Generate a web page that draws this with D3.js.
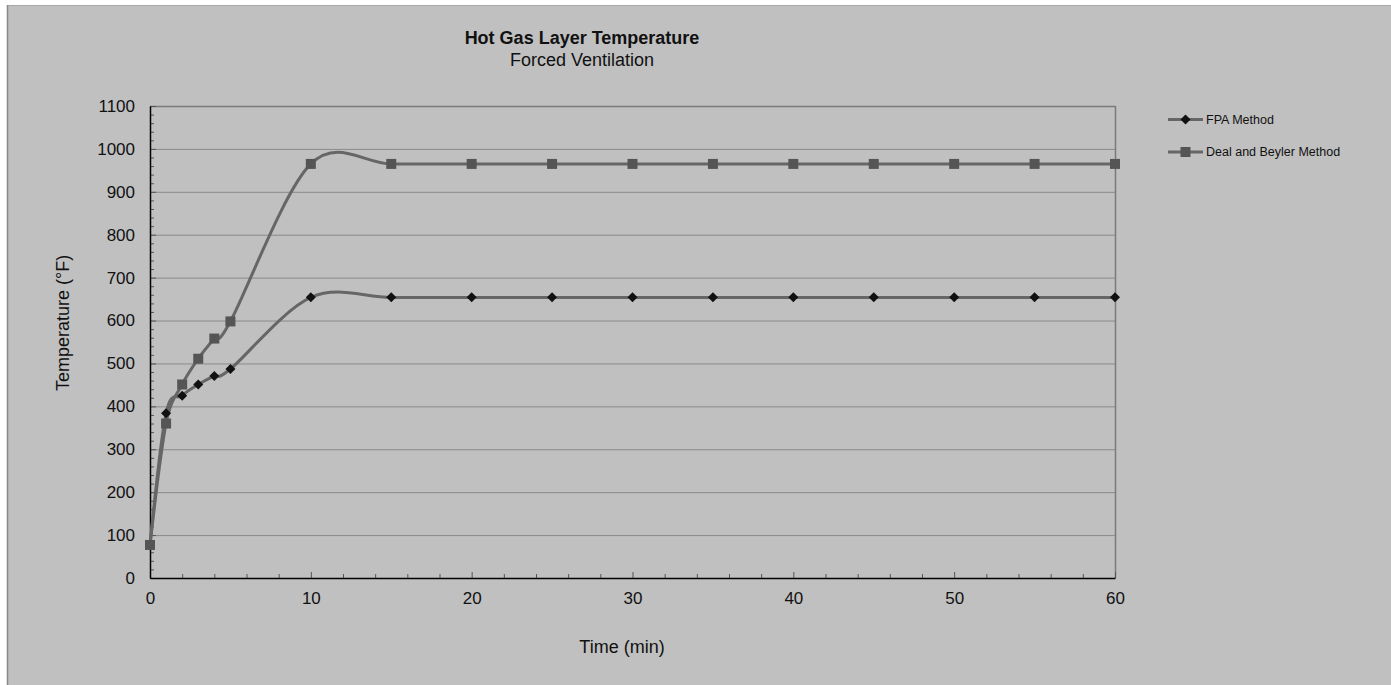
<!DOCTYPE html>
<html>
<head>
<meta charset="utf-8">
<script src="https://cdn.jsdelivr.net/npm/d3@7/dist/d3.min.js"></script>
<style>
  html, body { margin: 0; padding: 0; background: #ffffff; }
  svg { display: block; font-family: "Liberation Sans", Arial, sans-serif; }
</style>
</head>
<body>
<svg id="chart" width="1391" height="685"></svg>
<script>
// Elapsed time (minutes)
const times = [0, 1, 2, 3, 4, 5, 10, 15, 20, 25, 30, 35, 40, 45, 50, 55, 60];
// Hot gas layer temperature (°F), FPA method
const fpaTemps = [77, 384, 425, 451, 471, 487, 654, 654, 654, 654, 654, 654, 654, 654, 654, 654, 654];
// Hot gas layer temperature (°F), Deal and Beyler method
const dealBeylerTemps = [77, 360, 451, 511, 558, 598, 965, 965, 965, 965, 965, 965, 965, 965, 965, 965, 965];
const seriesNames = ["FPA Method", "Deal and Beyler Method"];
const xTicks = [0, 10, 20, 30, 40, 50, 60];
const yTicks = [0, 100, 200, 300, 400, 500, 600, 700, 800, 900, 1000, 1100];

const svg = d3.select("#chart");
const W = 1391, H = 685;
const plot = { left: 150, right: 1115, top: 106, bottom: 578 };

// chart area panel
svg.append("rect").attr("x", 7).attr("y", 5).attr("width", W - 7).attr("height", H - 5)
  .attr("fill", "#c0c0c0");
svg.append("line").attr("x1", 7).attr("x2", W).attr("y1", 5.5).attr("y2", 5.5)
  .attr("stroke", "#a8a8a8").attr("stroke-width", 1);
svg.append("line").attr("x1", 7.5).attr("x2", 7.5).attr("y1", 5).attr("y2", H)
  .attr("stroke", "#888888").attr("stroke-width", 1.5);

const x = d3.scaleLinear().domain([0, 60]).range([plot.left, plot.right]);
const y = d3.scaleLinear().domain([0, 1100]).range([plot.bottom, plot.top]);

// horizontal gridlines
svg.append("g").selectAll("line").data(yTicks.filter(v => v > 0 && v < 1100)).join("line")
  .attr("x1", plot.left).attr("x2", plot.right)
  .attr("y1", d => y(d) + 0.5).attr("y2", d => y(d) + 0.5)
  .attr("stroke", "#8a8a8a").attr("stroke-width", 1);

// plot frame top and right
svg.append("line").attr("x1", plot.left).attr("x2", plot.right + 0.5)
  .attr("y1", plot.top + 0.5).attr("y2", plot.top + 0.5)
  .attr("stroke", "#7a7a7a").attr("stroke-width", 1.5);
svg.append("line").attr("x1", plot.right + 0.5).attr("x2", plot.right + 0.5)
  .attr("y1", plot.top).attr("y2", plot.bottom)
  .attr("stroke", "#7a7a7a").attr("stroke-width", 1.5);

// minor ticks (inside)
const yMinor = d3.range(0, 1101, 20);
svg.append("g").selectAll("line").data(yMinor).join("line")
  .attr("x1", plot.left).attr("x2", d => plot.left + (d % 100 === 0 ? 6 : 4))
  .attr("y1", d => y(d) + 0.5).attr("y2", d => y(d) + 0.5)
  .attr("stroke", "#555").attr("stroke-width", 1);
const xMinor = d3.range(0, 61, 2);
svg.append("g").selectAll("line").data(xMinor).join("line")
  .attr("x1", d => x(d) + 0.5).attr("x2", d => x(d) + 0.5)
  .attr("y1", plot.bottom).attr("y2", d => plot.bottom - (d % 10 === 0 ? 6 : 4))
  .attr("stroke", "#555").attr("stroke-width", 1);

// axes
const yAxis = svg.append("g").attr("transform", `translate(${plot.left},0)`)
  .call(d3.axisLeft(y).tickValues(yTicks).tickSize(0).tickPadding(15).tickFormat(d3.format("d")));
const xAxis = svg.append("g").attr("transform", `translate(0,${plot.bottom})`)
  .call(d3.axisBottom(x).tickValues(xTicks).tickSize(0).tickPadding(14).tickFormat(d3.format("d")));
[xAxis, yAxis].forEach(g => {
  g.select(".domain").attr("stroke", "#000").attr("stroke-width", 1.5);
  g.selectAll("text").attr("font-size", 17).attr("fill", "#111")
    .attr("font-family", "Liberation Sans, Arial, sans-serif");
});

// series lines (smoothed)
const line = d3.line().x(d => x(d[0])).y(d => y(d[1])).curve(d3.curveCardinal.tension(0));
const fpaPts = times.map((t, i) => [t, fpaTemps[i]]);
const dbPts = times.map((t, i) => [t, dealBeylerTemps[i]]);
const lineColor = "#666666";

svg.append("path").datum(dbPts).attr("d", line)
  .attr("fill", "none").attr("stroke", lineColor).attr("stroke-width", 3);
svg.append("path").datum(fpaPts).attr("d", line)
  .attr("fill", "none").attr("stroke", lineColor).attr("stroke-width", 3);

function drawDiamond(g, cx, cy) {
  g.append("path").attr("d", "M0,-5L5,0L0,5L-5,0Z")
    .attr("transform", `translate(${cx},${cy})`).attr("fill", "#111");
}
function drawSquare(g, cx, cy) {
  g.append("rect").attr("x", cx - 5).attr("y", cy - 5).attr("width", 10).attr("height", 10)
    .attr("fill", "#555555");
}

const markers = svg.append("g");
fpaPts.forEach(p => drawDiamond(markers, x(p[0]), y(p[1])));
dbPts.forEach(p => drawSquare(markers, x(p[0]), y(p[1])));

// legend
const legend = svg.append("g").attr("font-size", 12.5).attr("fill", "#111");
const legendRows = [{ name: seriesNames[0], y: 119.5, mark: drawDiamond },
                    { name: seriesNames[1], y: 152, mark: drawSquare }];
legendRows.forEach(r => {
  legend.append("line").attr("x1", 1168).attr("x2", 1203).attr("y1", r.y).attr("y2", r.y)
    .attr("stroke", lineColor).attr("stroke-width", 3);
  r.mark(legend, 1185.5, r.y);
  legend.append("text").attr("x", 1206).attr("y", r.y).attr("dy", "0.35em").text(r.name);
});

// titles
svg.append("text").attr("x", 582).attr("y", 44).attr("text-anchor", "middle")
  .attr("font-size", 18).attr("font-weight", "bold").attr("fill", "#111")
  .text("Hot Gas Layer Temperature");
svg.append("text").attr("x", 582).attr("y", 66).attr("text-anchor", "middle")
  .attr("font-size", 18).attr("fill", "#111").text("Forced Ventilation");
svg.append("text").attr("x", 622).attr("y", 653).attr("text-anchor", "middle")
  .attr("font-size", 18).attr("fill", "#111").text("Time (min)");
svg.append("text").attr("transform", "translate(69,323) rotate(-90)").attr("text-anchor", "middle")
  .attr("font-size", 18).attr("fill", "#111").text("Temperature (°F)");
</script>
</body>
</html>
